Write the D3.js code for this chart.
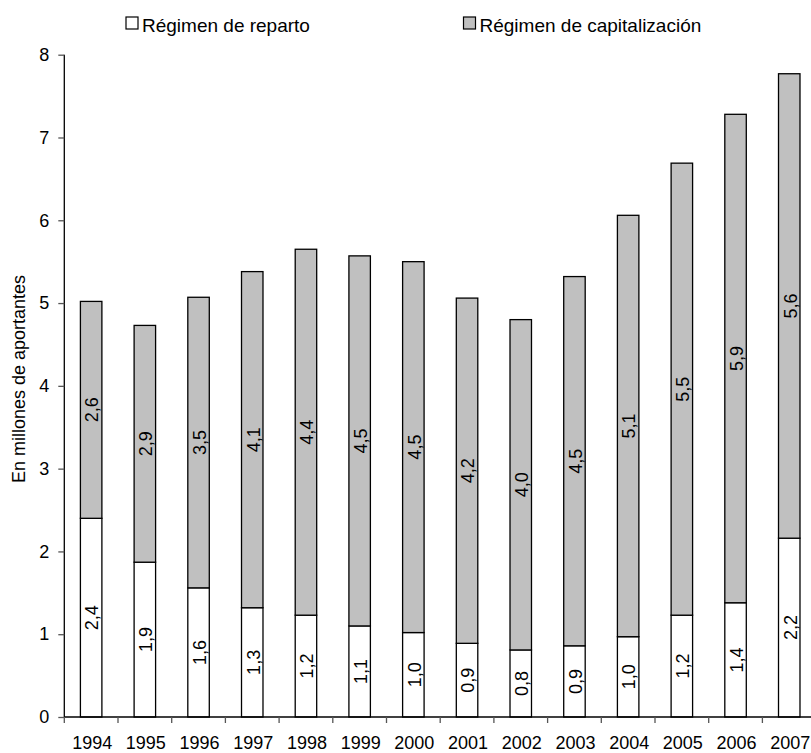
<!DOCTYPE html>
<html><head><meta charset="utf-8">
<script src="https://cdn.jsdelivr.net/npm/d3@7"></script>
<style>
html,body{margin:0;padding:0;background:#fff;}
svg{display:block;font-family:"Liberation Sans",Arial,sans-serif;}
</style></head>
<body><svg id="chart" width="811" height="753"></svg>
<script>
const years = ["1994","1995","1996","1997","1998","1999","2000","2001","2002","2003","2004","2005","2006","2007"];
const reparto = [2.40,1.87,1.56,1.32,1.23,1.10,1.02,0.89,0.81,0.86,0.97,1.23,1.38,2.16];
const capitalizacion = [2.62,2.86,3.51,4.06,4.42,4.47,4.48,4.17,3.99,4.46,5.09,5.46,5.90,5.61];
const yTicks = [0,1,2,3,4,5,6,7,8];
const seriesNames = ["Régimen de reparto","Régimen de capitalización"];
const seriesColors = ["#ffffff","#c0c0c0"];

const svg = d3.select("#chart");
const x0 = 64.3, step = 53.7;
const x = d3.scaleBand().domain(years).range([x0, x0 + step*years.length]).paddingInner(0.6).paddingOuter(0.3);
const y = d3.scaleLinear().domain([0,8]).range([717,54.7]);
const fmt = v => d3.format(".1f")(v).replace(".", ",");

const data = years.map((yr,i)=>({year:yr, r:reparto[i], c:capitalizacion[i]}));

// bars
const g = svg.append("g");
data.forEach(d=>{
  const segs = [{v0:0,v1:d.r,fill:seriesColors[0],val:d.r},{v0:d.r,v1:d.r+d.c,fill:seriesColors[1],val:d.c}];
  segs.forEach(s=>{
    g.append("rect").attr("x",x(d.year)).attr("width",x.bandwidth())
      .attr("y",y(s.v1)).attr("height",y(s.v0)-y(s.v1))
      .attr("fill",s.fill).attr("stroke","#000").attr("stroke-width",1.3);
    const cx = x(d.year)+x.bandwidth()/2, cy = (y(s.v0)+y(s.v1))/2;
    g.append("text").attr("transform",`translate(${cx+1},${cy}) rotate(-90)`)
      .attr("text-anchor","middle").attr("dy","0.35em")
      .attr("font-size",18).attr("fill","#000").text(fmt(s.val));
  });
});

// y axis
const yAxis = svg.append("g").attr("transform",`translate(${x0},0)`)
  .call(d3.axisLeft(y).tickValues(yTicks).tickSize(6).tickPadding(9).tickFormat(d3.format("d")));
yAxis.select(".domain").attr("stroke","#000").attr("stroke-width",1.3).attr("d",`M0,${y(8)}V${y(0)}`);
yAxis.selectAll(".tick line").attr("stroke","#555").attr("stroke-width",1.3);
yAxis.selectAll("text").attr("font-size",18).attr("font-family","Liberation Sans, Arial, sans-serif").attr("fill","#000");

// x axis
const xa = svg.append("g");
xa.append("line").attr("x1",x0).attr("x2",x0+step*years.length).attr("y1",y(0)).attr("y2",y(0))
  .attr("stroke","#000").attr("stroke-width",1.3);
const bounds = years.map(d=>x(d)-x.step()*0.3).concat([x0+step*years.length]);
bounds.forEach(b=>{
  xa.append("line").attr("x1",b).attr("x2",b).attr("y1",y(0)).attr("y2",y(0)+6)
    .attr("stroke","#555").attr("stroke-width",1.3);
});
years.forEach(d=>{
  xa.append("text").attr("x",x(d)+x.bandwidth()/2+1).attr("y",749)
    .attr("text-anchor","middle").attr("font-size",18).attr("fill","#000").text(d);
});

// y title
svg.append("text").attr("transform",`translate(25,379) rotate(-90)`)
  .attr("text-anchor","middle").attr("font-size",18).attr("fill","#000").text("En millones de aportantes");

// legend
const legX = [126,463.5];
seriesNames.forEach((n,i)=>{
  svg.append("rect").attr("x",legX[i]).attr("y",17).attr("width",12).attr("height",12)
    .attr("fill",seriesColors[i]).attr("stroke","#000").attr("stroke-width",1.2);
  svg.append("text").attr("x",legX[i]+16).attr("y",31.5).attr("font-size",19).attr("fill","#000").text(n);
});
</script></body></html>
